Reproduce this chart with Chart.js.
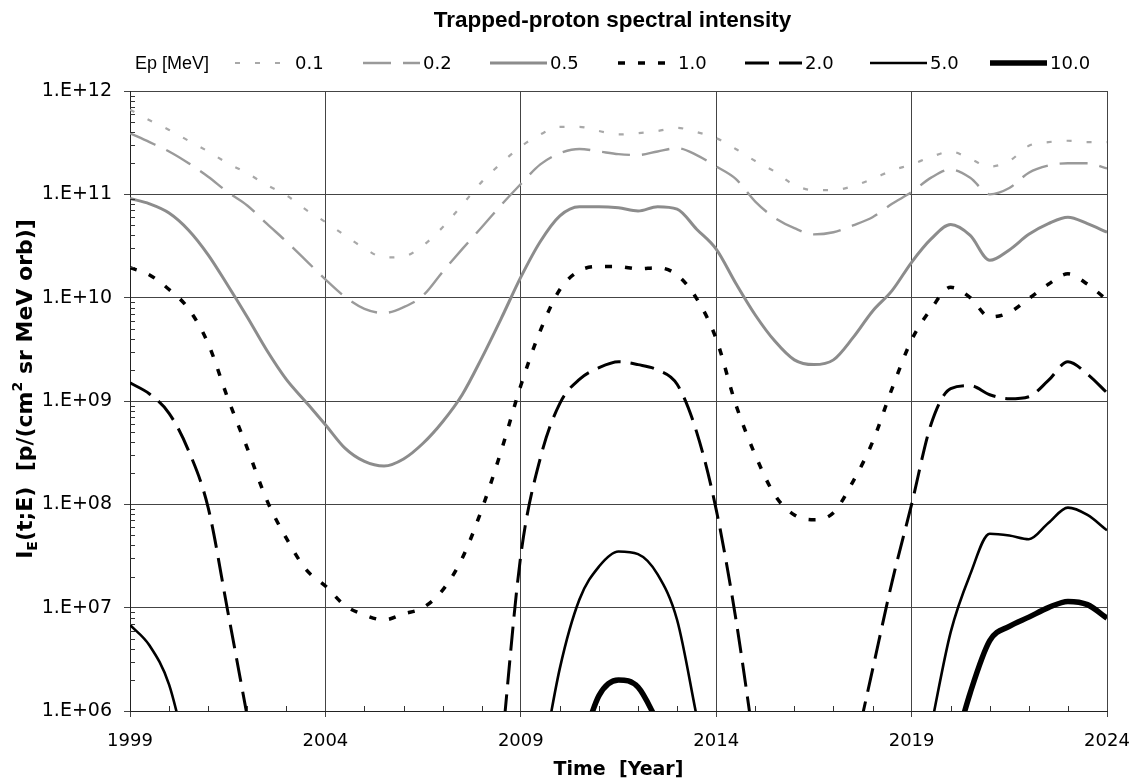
<!DOCTYPE html>
<html>
<head>
<meta charset="utf-8">
<script src="https://cdn.jsdelivr.net/npm/chart.js@4.4.1/dist/chart.umd.min.js"></script>
<style>
html,body{margin:0;padding:0;background:#ffffff;}
#wrap{width:1134px;height:780px;}
</style>
</head>
<body>
<div id="wrap"><canvas id="c" width="1134" height="780"></canvas></div>
<script>
// ---- data ----
const years = [1999,1999.5,2000,2000.5,2001,2001.5,2002,2002.5,2003,2003.5,2004,2004.5,2005,2005.5,2006,2006.5,2007,2007.5,2008,2008.5,2009,2009.5,2010,2010.5,2011,2011.5,2012,2012.5,2013,2013.5,2014,2014.5,2015,2015.5,2016,2016.5,2017,2017.5,2018,2018.5,2019,2019.5,2020,2020.5,2021,2021.5,2022,2022.5,2023,2023.5,2024];

const energyLabels = ['0.1','0.2','0.5','1.0','2.0','5.0','10.0'];

const ep01 = [6.6e11,5.2e11,4.2e11,3.3e11,2.6e11,2.0e11,1.6e11,1.23e11,9.8e10,7.1e10,5.4e10,4.0e10,3.0e10,2.45e10,2.5e10,3.2e10,4.8e10,7.9e10,1.32e11,2.0e11,2.9e11,3.8e11,4.5e11,4.5e11,4.1e11,3.8e11,3.9e11,4.1e11,4.4e11,4.0e11,3.5e11,2.75e11,2.1e11,1.66e11,1.23e11,1.1e11,1.1e11,1.2e11,1.41e11,1.7e11,1.95e11,2.3e11,2.6e11,2.2e11,1.86e11,2.1e11,2.95e11,3.2e11,3.3e11,3.2e11,3.2e11];

const ep02 = [3.9e11,3.2e11,2.6e11,2.0e11,1.48e11,1.05e11,7.8e10,5.2e10,3.5e10,2.3e10,1.5e10,1.02e10,7.8e9,7.1e9,8.1e9,1.05e10,1.78e10,2.95e10,4.8e10,7.9e10,1.26e11,1.95e11,2.5e11,2.75e11,2.6e11,2.45e11,2.4e11,2.6e11,2.8e11,2.4e11,1.86e11,1.41e11,8.5e10,5.9e10,4.7e10,4.1e10,4.3e10,5.0e10,6.0e10,8.1e10,1.05e11,1.45e11,1.74e11,1.45e11,1.0e11,1.15e11,1.62e11,1.9e11,2.0e11,2.0e11,1.78e11];

const ep05 = [9.1e10,8.1e10,6.6e10,4.5e10,2.6e10,1.32e10,6.5e9,3.1e9,1.62e9,9.8e8,5.9e8,3.5e8,2.6e8,2.35e8,2.75e8,3.9e8,6.3e8,1.15e9,2.6e9,6.3e9,1.58e10,3.5e10,6.2e10,7.6e10,7.6e10,7.4e10,6.9e10,7.6e10,7.2e10,4.6e10,2.95e10,1.38e10,6.8e9,3.8e9,2.5e9,2.25e9,2.5e9,4.1e9,7.4e9,1.17e10,2.2e10,3.7e10,5.1e10,4.0e10,2.3e10,2.9e10,4.1e10,5.2e10,6.0e10,5.2e10,4.3e10];

const ep10 = [1.95e10,1.66e10,1.2e10,7.8e9,3.6e9,1.07e9,3.5e8,1.1e8,4.7e7,2.35e7,1.62e7,1.05e7,8.5e6,7.6e6,8.7e6,1.0e7,1.48e7,3.0e7,8.9e7,3.3e8,1.41e9,4.8e9,1.2e10,1.82e10,2.0e10,2.0e10,1.9e10,1.95e10,1.66e10,9.8e9,4.0e9,9.3e8,3.0e8,1.23e8,7.9e7,7.1e7,8.3e7,1.66e8,4.0e8,1.32e9,3.9e9,7.8e9,1.26e10,1.0e10,6.5e9,7.2e9,9.8e9,1.35e10,1.7e10,1.35e10,9.5e9];

const ep20 = [1.5e9,1.17e9,7.6e8,3.3e8,9.3e7,9.3e6,8.9e5,null,null,null,null,null,null,null,null,null,null,null,null,4.0e5,3.2e7,2.8e8,9.5e8,1.62e9,2.1e9,2.4e9,2.25e9,2.0e9,1.45e9,5.0e8,8.9e7,7.9e6,4.0e5,null,null,null,null,3.5e5,2.5e6,1.78e7,1.0e8,6.0e8,1.32e9,1.41e9,1.15e9,1.05e9,1.1e9,1.58e9,2.4e9,1.82e9,1.2e9];

const ep50 = [6.8e6,4.3e6,1.8e6,3.2e5,null,null,null,null,null,null,null,null,null,null,null,null,null,null,null,null,null,2.5e5,2.6e6,1.2e7,2.5e7,3.5e7,3.3e7,2.1e7,7.6e6,8.9e5,null,null,null,null,null,null,null,null,null,null,null,7.1e5,5.8e6,2.1e7,5.2e7,5.0e7,4.6e7,6.6e7,9.3e7,7.9e7,5.6e7];

const ep100 = [null,null,null,null,null,null,null,null,null,null,null,null,null,null,null,null,null,null,null,null,null,null,null,4.0e5,1.41e6,2.0e6,1.7e6,7.9e5,null,null,null,null,null,null,null,null,null,null,null,null,null,null,3.2e5,1.5e6,4.8e6,6.6e6,8.1e6,1.0e7,1.15e7,1.07e7,7.9e6];

const xTickYears = [1999,2004,2009,2014,2019,2024];
const yTickValues = [1e6,1e7,1e8,1e9,1e10,1e11,1e12];

// ---- helpers ----
function pts(vals){ return years.map((x,i)=>({x:x, y:vals[i]})); }

const styles = [
  {color:'#a8a8a8', width:2.2, dash:[5,15]},
  {color:'#9a9a9a', width:2.4, dash:[28,12]},
  {color:'#8c8c8c', width:3,   dash:[]},
  {color:'#000000', width:3.5, dash:[7,13]},
  {color:'#000000', width:3,   dash:[24,10]},
  {color:'#000000', width:2.6, dash:[]},
  {color:'#000000', width:5.5, dash:[]}
];
const seriesList = [ep01,ep02,ep05,ep10,ep20,ep50,ep100];

const datasets = seriesList.map((s,i)=>({
  label: energyLabels[i],
  data: pts(s),
  borderColor: styles[i].color,
  borderWidth: styles[i].width,
  borderDash: styles[i].dash,
  pointRadius: 0,
  fill: false,
  spanGaps: false,
  cubicInterpolationMode: 'monotone',
  clip: 0
}));

const headerPlugin = {
  id: 'header',
  afterDraw(chart){
    const ctx = chart.ctx;
    const area = chart.chartArea;
    ctx.save();
    ctx.fillStyle = '#000';
    ctx.textBaseline = 'middle';
    ctx.textAlign = 'center';
    ctx.font = 'bold 22.5px "Liberation Sans", Arial, sans-serif';
    ctx.fillText('Trapped-proton spectral intensity', (area.left + area.right) / 2 - 6, 21);

    ctx.font = '18px "Liberation Sans", Arial, sans-serif';
    ctx.textAlign = 'right';
    ctx.fillText('Ep [MeV]', 209, 64);
    ctx.textAlign = 'left';
    ctx.font = '18px "DejaVu Sans", Verdana, sans-serif';
    const xs = [235,363,490,618,745,870,990];
    chart.data.datasets.forEach((ds,i)=>{
      const x0 = xs[i];
      ctx.strokeStyle = ds.borderColor;
      ctx.lineWidth = ds.borderWidth;
      ctx.setLineDash(ds.borderDash || []);
      ctx.beginPath();
      ctx.moveTo(x0, 63);
      ctx.lineTo(x0 + 57, 63);
      ctx.stroke();
      ctx.setLineDash([]);
      ctx.fillText(ds.label, x0 + 60, 64);
    });
    ctx.restore();
  }
};

const yTitlePlugin = {
  id: 'yTitle',
  afterDraw(chart){
    const ctx = chart.ctx;
    const big = 'bold 22px "DejaVu Sans", Verdana, sans-serif';
    const small = 'bold 14px "DejaVu Sans", Verdana, sans-serif';
    const parts = [['I',big,0],['E',small,5],['(t;E)  [p/(cm',big,0],['2',small,-10],[' sr MeV orb)]',big,0]];
    ctx.save();
    ctx.translate(24, 389);
    ctx.rotate(-Math.PI/2);
    let total = 0;
    parts.forEach(p=>{ ctx.font = p[1]; total += ctx.measureText(p[0]).width; });
    let x = -total/2;
    ctx.fillStyle = '#000';
    ctx.textBaseline = 'alphabetic';
    ctx.textAlign = 'left';
    parts.forEach(p=>{ ctx.font = p[1]; ctx.fillText(p[0], x, 8 + p[2]); x += ctx.measureText(p[0]).width; });
    ctx.restore();
  }
};

const minorTickPlugin = {
  id: 'minorTicks',
  afterDraw(chart){
    const ctx = chart.ctx;
    const xs = chart.scales.x, ys = chart.scales.y;
    const area = chart.chartArea;
    ctx.save();
    ctx.strokeStyle = '#333';
    ctx.lineWidth = 1;
    ctx.beginPath();
    for (let e = 6; e < 12; e++) {
      for (let k = 2; k <= 9; k++) {
        const y = Math.round(ys.getPixelForValue(k * Math.pow(10, e))) + 0.5;
        ctx.moveTo(area.left, y); ctx.lineTo(area.left + 5, y);
      }
    }
    for (let yr = 2000; yr < 2024; yr++) {
      if ((yr - 1999) % 5 === 0) continue;
      const x = Math.round(xs.getPixelForValue(yr)) + 0.5;
      ctx.moveTo(x, area.bottom); ctx.lineTo(x, area.bottom - 5);
    }
    ctx.stroke();
    ctx.restore();
  }
};

new Chart(document.getElementById('c'), {
  type: 'line',
  data: { datasets: datasets },
  options: {
    responsive: false,
    animation: false,
    devicePixelRatio: 1,
    layout: { padding: { left: 0, right: 27, top: 91, bottom: 0 } },
    plugins: {
      legend: { display: false },
      tooltip: { enabled: false },
      title: { display: false }
    },
    scales: {
      x: {
        type: 'linear',
        min: 1999, max: 2024,
        afterBuildTicks: s => { s.ticks = xTickYears.map(v => ({ value: v })); },
        afterFit: s => { s.height = 69; s.paddingLeft = 0; s.paddingRight = 0; },
        ticks: {
          autoSkip: false, maxRotation: 0, padding: 14, color: '#000',
          font: { family: '"DejaVu Sans", Verdana, sans-serif', size: 18 },
          callback: v => String(v)
        },
        grid: { color: '#444', lineWidth: 1, tickLength: 6 },
        border: { color: '#222', width: 1 },
        title: {
          display: true, text: 'Time  [Year]', color: '#000',
          font: { family: '"DejaVu Sans", Verdana, sans-serif', size: 19, weight: 'bold', lineHeight: 1 },
          padding: { top: 0, bottom: 0 }
        }
      },
      y: {
        type: 'logarithmic',
        min: 1e6, max: 1e12,
        afterBuildTicks: s => { s.ticks = yTickValues.map(v => ({ value: v })); },
        afterFit: s => { s.width = 130; s.paddingTop = 0; s.paddingBottom = 0; },
        ticks: {
          autoSkip: false, padding: 12, color: '#000',
          font: { family: '"DejaVu Sans", Verdana, sans-serif', size: 19 },
          callback: v => '1.E+' + String(Math.round(Math.log10(v))).padStart(2, '0')
        },
        grid: { color: '#444', lineWidth: 1, tickLength: 6 },
        border: { color: '#222', width: 1 }
      }
    }
  },
  plugins: [headerPlugin, yTitlePlugin, minorTickPlugin]
});
</script>
</body>
</html>
